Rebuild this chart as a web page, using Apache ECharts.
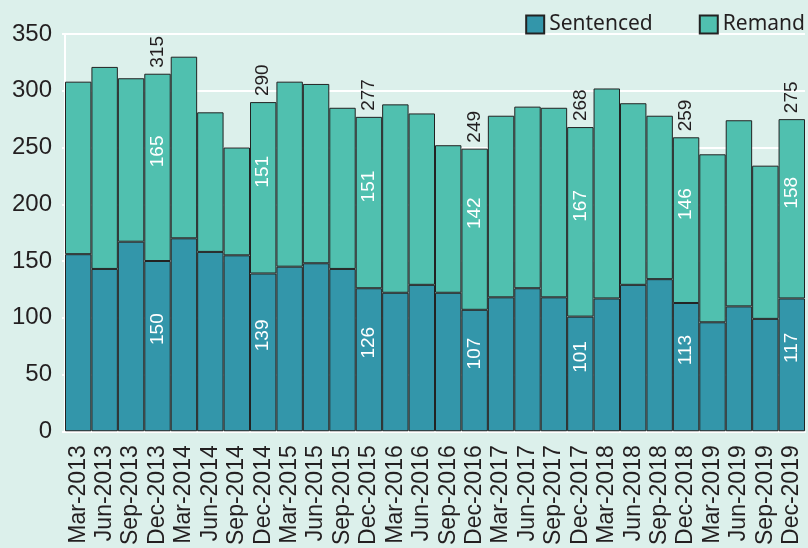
<!DOCTYPE html>
<html><head><meta charset="utf-8">
<script src="https://cdn.jsdelivr.net/npm/echarts@6/dist/echarts.min.js"></script>
<style>html,body{margin:0;padding:0;background:#dcf0eb;}#c{width:808px;height:548px;}</style>
</head><body><div id="c"></div>
<script>
const categories = ['Mar-2013','Jun-2013','Sep-2013','Dec-2013','Mar-2014','Jun-2014','Sep-2014','Dec-2014','Mar-2015','Jun-2015','Sep-2015','Dec-2015','Mar-2016','Jun-2016','Sep-2016','Dec-2016','Mar-2017','Jun-2017','Sep-2017','Dec-2017','Mar-2018','Jun-2018','Sep-2018','Dec-2018','Mar-2019','Jun-2019','Sep-2019','Dec-2019'];
const sentenced = [156,143,167,150,170,158,155,139,145,148,143,126,122,129,122,107,118,126,118,101,117,129,134,113,96,110,99,117];
const remand =    [152,178,144,165,160,123,95,151,163,158,142,151,166,151,130,142,160,160,167,167,185,160,144,146,148,164,135,158];
const labelled = ['Dec-2013','Dec-2014','Dec-2015','Dec-2016','Dec-2017','Dec-2018','Dec-2019'];
const yTicks = [0,50,100,150,200,250,300,350];

const isLab = i => labelled.includes(categories[i]);
const showLbl = p => isLab(p.dataIndex) ? String(p.value) : '';
const totalData = [];
categories.forEach((c, i) => { if (isLab(i)) totalData.push([i, sentenced[i] + remand[i]]); });

const chart = echarts.init(document.getElementById('c'));
const txt = '#231f20';
chart.setOption({
  backgroundColor: '#dcf0eb',
  animation: false,
  legend: {
    data: ['Sentenced','Remand'],
    right: 3, top: 14, padding: 0,
    itemWidth: 18, itemHeight: 18, itemGap: 46,
    textStyle: {fontFamily: 'Noto Sans', fontSize: 21, color: txt},
    icon: 'rect'
  },
  grid: {left: 65, right: 3, top: 34, bottom: 115, containLabel: false},
  xAxis: {
    type: 'category', data: categories,
    axisLine: {show: true, lineStyle: {color: '#ffffff', width: 2}},
    axisTick: {show: false},
    axisLabel: {rotate: 90, fontFamily: 'Liberation Sans', fontSize: 23, color: txt, margin: 14, interval: 0}
  },
  yAxis: {
    type: 'value', min: yTicks[0], max: yTicks[yTicks.length-1], interval: 50,
    axisLine: {show: true, lineStyle: {color: '#ffffff', width: 2}},
    axisTick: {show: true, length: 3, lineStyle: {color: '#ffffff', width: 2}},
    splitLine: {show: true, lineStyle: {color: '#ffffff', width: 2}},
    axisLabel: {fontFamily: 'Liberation Sans', fontSize: 24, color: txt, margin: 13}
  },
  series: [
    {
      name: 'Sentenced', type: 'bar', stack: 'a', data: sentenced, barCategoryGap: 0,
      itemStyle: {color: '#3396aa', borderColor: '#222', borderWidth: 1},
      label: {show: true, position: 'inside', rotate: 90, offset: [17,0], formatter: showLbl,
              color: '#ffffff', fontFamily: 'Liberation Sans', fontSize: 19}
    },
    {
      name: 'Remand', type: 'bar', stack: 'a', data: remand, barCategoryGap: 0,
      itemStyle: {color: '#50c0af', borderColor: '#222', borderWidth: 1},
      label: {show: true, position: 'inside', rotate: 90, offset: [16,0], formatter: showLbl,
              color: '#ffffff', fontFamily: 'Liberation Sans', fontSize: 19}
    },
    {
      name: 'Total', type: 'custom', data: totalData, silent: true, encode: {x: 0, y: 1},
      renderItem: function (params, api) {
        const pt = api.coord([api.value(0), api.value(1)]);
        return {
          type: 'text', x: pt[0], y: pt[1] - 6, rotation: Math.PI / 2,
          style: {text: String(api.value(1)), fill: txt, fontSize: 19, fontFamily: 'Liberation Sans',
                  align: 'left', verticalAlign: 'middle'}
        };
      }
    }
  ]
});
</script></body></html>
